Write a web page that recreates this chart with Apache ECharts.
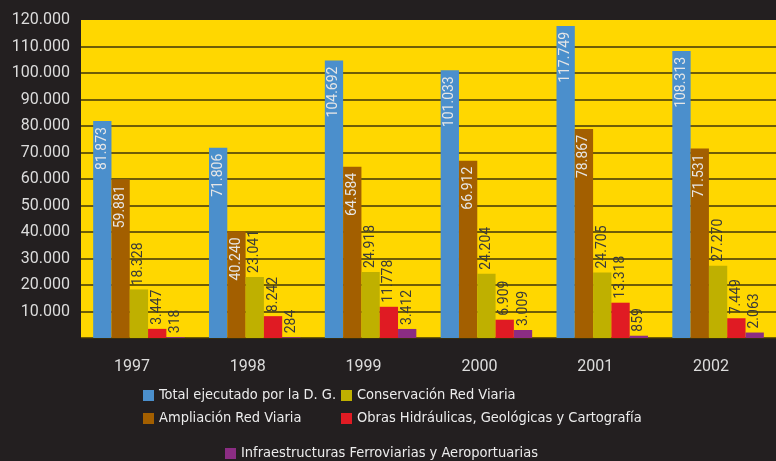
<!DOCTYPE html>
<html>
<head>
<meta charset="utf-8">
<script src="https://cdn.jsdelivr.net/npm/echarts@6/dist/echarts.min.js"></script>
<style>
html,body{margin:0;padding:0;background:#231f20;}
#c{width:776px;height:461px;}
</style>
</head>
<body>
<div id="c"></div>
<script>
var categories = ['1997', '1998', '1999', '2000', '2001', '2002'];
var seriesNames = [
  'Total ejecutado por la D. G.',
  'Ampliación Red Viaria',
  'Conservación Red Viaria',
  'Obras Hidráulicas, Geológicas y Cartografía',
  'Infraestructuras Ferroviarias y Aeroportuarias'
];
var totalEjecutado = [81873, 71806, 104692, 101033, 117749, 108313];
var ampliacion = [59881, 40240, 64584, 66912, 78867, 71531];
var conservacion = [18328, 23041, 24918, 24204, 24705, 27270];
var obrasHidraulicas = [3447, 8242, 11778, 6909, 13318, 7449];
var infraestructuras = [318, 284, 3412, 3009, 859, 2063];
var colors = ['#4b8fcc', '#a35f00', '#bfb000', '#e01b23', '#8b2d83'];

function fmt(v) {
  return String(v).replace(/\B(?=(\d{3})+(?!\d))/g, '.');
}

var seriesData = [totalEjecutado, ampliacion, conservacion, obrasHidraulicas, infraestructuras];
var inside = [true, true, false, false, false];
var numFont = "Roboto, sans-serif";
var legFont = "'Liberation Sans Narrow', 'DejaVu Sans Condensed', sans-serif";

var series = seriesData.map(function (d, i) {
  var label = inside[i] ? {
    show: true, position: 'insideTop', rotate: 90, align: 'right', verticalAlign: 'middle',
    distance: 6, color: '#e6e6e6', fontSize: 14, fontFamily: numFont,
    formatter: function (p) { return fmt(p.value); }
  } : {
    show: true, position: 'top', rotate: 90, align: 'left', verticalAlign: 'middle',
    distance: 4, color: '#3a3a3a', fontSize: 14, fontFamily: numFont,
    formatter: function (p) { return fmt(p.value); }
  };
  return {
    name: seriesNames[i], type: 'bar', data: d,
    barGap: '0%', barCategoryGap: '21%',
    itemStyle: { color: colors[i] },
    label: label
  };
});

var gridColors = [];
for (var k = 0; k < 12; k++) gridColors.push('#3f3408');
gridColors.push('rgba(0,0,0,0)');

var legendBase = {
  orient: 'vertical', icon: 'rect', itemWidth: 11, itemHeight: 11, itemGap: 8, padding: 0,
  textStyle: { color: '#ececec', fontSize: 14.5, fontFamily: legFont }
};

var option = {
  backgroundColor: '#231f20',
  animation: false,
  grid: { left: 81, top: 20, right: -14, bottom: 123, show: true, backgroundColor: '#ffd700', borderWidth: 0 },
  xAxis: {
    type: 'category', data: categories,
    axisLine: { show: false }, axisTick: { show: false },
    axisLabel: { color: '#dcdcdc', fontSize: 16, fontFamily: numFont, margin: 21, padding: [0, 14, 0, 0] }
  },
  yAxis: {
    type: 'value', min: 0, max: 120000, interval: 10000,
    axisLine: { show: false }, axisTick: { show: false },
    splitLine: { lineStyle: { color: gridColors, width: 1.6 } },
    axisLabel: {
      color: '#dcdcdc', fontSize: 16, fontFamily: numFont, margin: 11,
      formatter: function (v) { return v === 0 ? '' : fmt(v); }
    }
  },
  legend: [
    Object.assign({}, legendBase, { left: 143, top: 388, data: [seriesNames[0], seriesNames[1]] }),
    Object.assign({}, legendBase, { left: 341, top: 388, data: [seriesNames[2], seriesNames[3]] }),
    Object.assign({}, legendBase, { left: 225, top: 446, data: [seriesNames[4]] })
  ],
  series: series
};

var chart = echarts.init(document.getElementById('c'));
chart.setOption(option);
</script>
</body>
</html>
